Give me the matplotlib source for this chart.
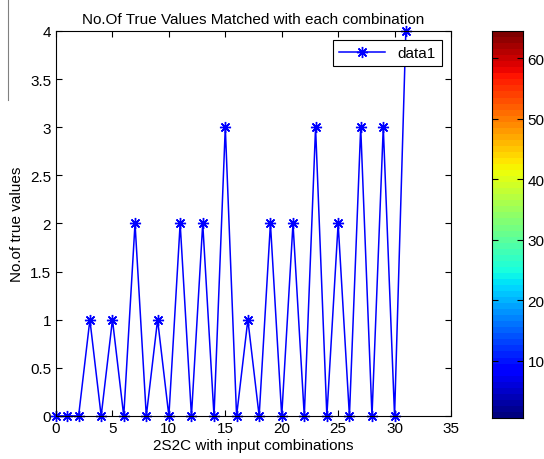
import numpy as np
import matplotlib
matplotlib.use('Agg')
import matplotlib.pyplot as plt
from matplotlib.lines import Line2D

plt.rcParams['font.family'] = ['Liberation Sans', 'DejaVu Sans']

# data
combos = list(range(32))
true_counts = [0, 0, 0, 1, 0, 1, 0, 2, 0, 1, 0, 2, 0, 2, 0, 3,
               0, 1, 0, 2, 0, 2, 0, 3, 0, 2, 0, 3, 0, 3, 0, 4]
x_ticks = [0, 5, 10, 15, 20, 25, 30, 35]
y_ticks = [0, 0.5, 1, 1.5, 2, 2.5, 3, 3.5, 4]
cbar_ticks = [10, 20, 30, 40, 50, 60]

fig = plt.figure(figsize=(5.44, 4.60), dpi=100)
ax = fig.add_axes([0.103, 0.0935, 0.726, 0.837])
# matlab style asterisk marker
ax.plot(combos, true_counts, color='#0000ff', marker=(8, 2, 0), markersize=8,
        markeredgewidth=1.0, linewidth=1.1, label='data1', clip_on=False)
ax.set_xlim(0, 35)
ax.set_ylim(0, 4)
ax.set_xticks(x_ticks)
ax.set_yticks(y_ticks)
ax.set_yticklabels(['0', '0.5', '1', '1.5', '2', '2.5', '3', '3.5', '4'])
ax.tick_params(direction='in', top=True, right=True, labelsize=11, length=4)
ax.set_title('No.Of True Values Matched with each combination', fontsize=11, pad=6)
ax.set_xlabel('2S2C with input combinations', fontsize=11, labelpad=2)
ax.set_ylabel('No.of true values', fontsize=11, labelpad=4)
leg = ax.legend(loc='upper right', fontsize=11, fancybox=False, framealpha=1,
                edgecolor='black', borderaxespad=0.6, handlelength=3)
leg.get_frame().set_linewidth(0.8)

# jet colorbar with 64 levels
cax = fig.add_axes([0.904, 0.089, 0.057, 0.841])
levels = np.arange(1, 65)
cax.imshow(levels.reshape(-1, 1), cmap=plt.get_cmap('jet', 64), aspect='auto',
           origin='lower', extent=[0, 1, 0.5, 64.5])
cax.set_xticks([])
cax.yaxis.tick_right()
cax.set_yticks(cbar_ticks)
cax.tick_params(direction='in', labelsize=11, length=4, left=True, right=True)

# small stray line at top left
fig.add_artist(Line2D([0.015, 0.015], [0.78, 1.0], color='gray', linewidth=0.8))

fig.savefig('out.png', dpi=100)
